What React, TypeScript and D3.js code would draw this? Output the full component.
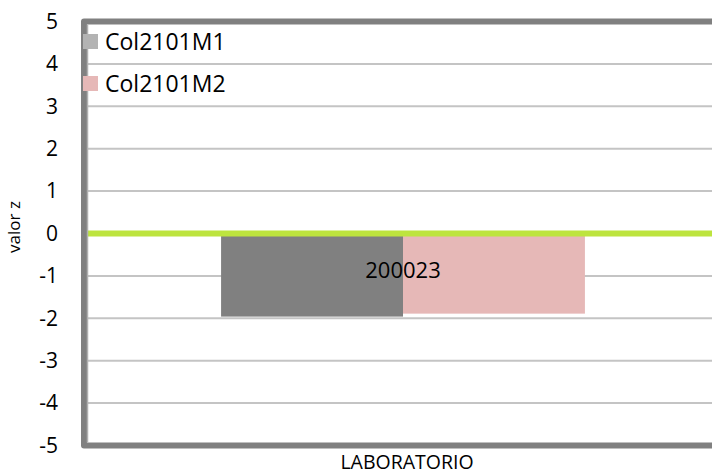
import React, { useEffect, useRef } from 'react';
import * as d3 from 'd3';

const categories = ['200023'];
const seriesNames = ['Col2101M1', 'Col2101M2'];
const seriesValues = [[-1.96], [-1.89]];
const seriesColors = ['#808080', '#e6b8b7'];
const legendColors = ['#b3b3b3', '#e6b8b7'];
const yTicks = [5, 4, 3, 2, 1, 0, -1, -2, -3, -4, -5];

export default function App() {
  const svgRef = useRef<SVGSVGElement>(null);

  useEffect(() => {
    if (!svgRef.current) return;
    const width = 712;
    const height = 474;
    const svg = d3.select(svgRef.current)
      .attr('width', width)
      .attr('height', height);
    svg.selectAll('*').remove();

    const left = 85;
    const right = 721;
    const y = d3.scaleLinear().domain([-5, 5]).range([445.5, 21.5]);
    const x0 = d3.scaleBand().domain(categories).range([left, right]).paddingInner(0).paddingOuter(0.374);
    const x1 = d3.scaleBand().domain(seriesNames).range([0, x0.bandwidth()]);

    const font = '"Open Sans", sans-serif';

    // gridlines
    svg.append('g')
      .selectAll('line')
      .data(yTicks.filter(t => t !== 5 && t !== -5 && t !== 0))
      .enter().append('line')
      .attr('x1', left).attr('x2', width)
      .attr('y1', d => y(d)).attr('y2', d => y(d))
      .attr('stroke', '#c4c4c4').attr('stroke-width', 2);

    // bars
    seriesNames.forEach((s, i) => {
      svg.append('g')
        .selectAll('rect')
        .data(categories.map((c, j) => ({ c, v: seriesValues[i][j] })))
        .enter().append('rect')
        .attr('x', d => (x0(d.c) as number) + (x1(s) as number))
        .attr('width', x1.bandwidth())
        .attr('y', d => y(Math.max(0, d.v)))
        .attr('height', d => Math.abs(y(d.v) - y(0)))
        .attr('fill', seriesColors[i]);
    });

    // zero line
    svg.append('line')
      .attr('x1', left).attr('x2', width)
      .attr('y1', y(0)).attr('y2', y(0))
      .attr('stroke', '#bde43e').attr('stroke-width', 6);

    // frame
    svg.append('path')
      .attr('d', `M${width + 10},${y(5)} H${left - 1} V${y(-5)} H${width + 10}`)
      .attr('fill', 'none').attr('stroke', '#808080').attr('stroke-width', 6)
      .attr('stroke-linejoin', 'round');
    svg.append('line')
      .attr('x1', left + 2.5).attr('x2', left + 2.5)
      .attr('y1', y(5) + 3).attr('y2', y(-5) - 3)
      .attr('stroke', '#b0b0b0').attr('stroke-width', 1.5);

    // y tick labels
    svg.append('g')
      .selectAll('text')
      .data(yTicks)
      .enter().append('text')
      .attr('x', 58).attr('y', d => y(d))
      .attr('dy', '0.35em')
      .attr('text-anchor', 'end')
      .attr('font-family', font).attr('font-size', 21)
      .attr('fill', '#000')
      .text(d => String(d));

    // category label
    svg.append('text')
      .attr('x', (x0(categories[0]) as number) + x0.bandwidth() / 2)
      .attr('y', 270).attr('dy', '0.35em')
      .attr('text-anchor', 'middle')
      .attr('font-family', font).attr('font-size', 22)
      .text(categories[0]);

    // axis titles
    svg.append('text')
      .attr('x', 407).attr('y', 462).attr('dy', '0.35em')
      .attr('text-anchor', 'middle')
      .attr('font-family', font).attr('font-size', 19.5)
      .text('LABORATORIO');
    svg.append('text')
      .attr('transform', `translate(14,227) rotate(-90)`)
      .attr('dy', '0.35em')
      .attr('text-anchor', 'middle')
      .attr('font-family', font).attr('font-size', 17)
      .text('valor z');

    // legend
    const legend = svg.append('g');
    seriesNames.forEach((s, i) => {
      const ly = 41.5 + i * 42;
      legend.append('rect')
        .attr('x', 83).attr('y', ly - 7.5).attr('width', 15).attr('height', 15)
        .attr('fill', legendColors[i]);
      legend.append('text')
        .attr('x', 105).attr('y', ly).attr('dy', '0.35em')
        .attr('font-family', font).attr('font-size', 23)
        .text(s);
    });
  }, []);

  return (
    <svg ref={svgRef}
      style={{ position: 'absolute', left: 0, top: 0, background: '#fff' }} />
  );
}
